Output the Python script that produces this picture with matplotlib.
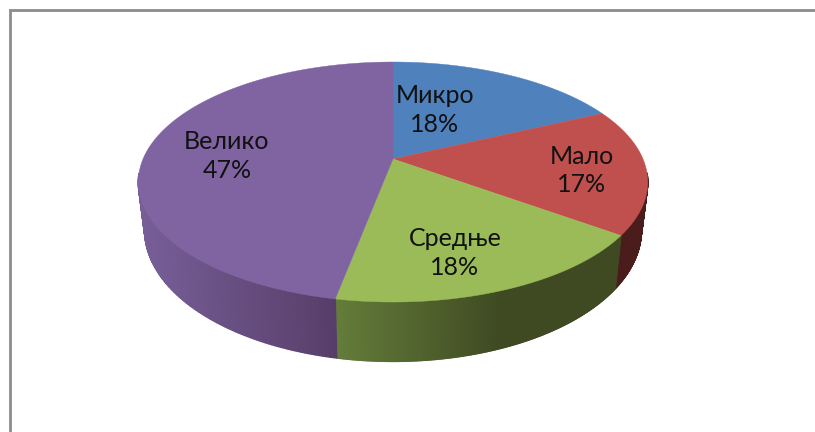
import numpy as np
import matplotlib
matplotlib.use("Agg")
import matplotlib.pyplot as plt
from matplotlib.colors import to_rgb

categories = ["Микро", "Мало", "Средње", "Велико"]
shares = [18, 17, 18, 47]
top_colors = ["#4f81bd", "#c0504d", "#9bbb59", "#8064a2"]
# side colour at the left and right end of the gradient, with the screen x range
side_stops = [("#2f4d71", "#2f4d71"), ("#4a1d1c", "#4a1d1c"),
              ("#647d3a", "#3f4a22"), ("#775e97", "#573e69")]
side_ranges = [(393, 650), (617, 648), (335, 500), (140, 335)]
label_xy = [(435, 110), (582, 170.5), (455, 253), (227, 156)]

W, H = 815, 432
fig = plt.figure(figsize=(W / 100, H / 100), dpi=100)
ax = fig.add_axes([0, 0, 1, 1])
ax.set_xlim(0, W)
ax.set_ylim(H, 0)
ax.axis("off")

CX, CY, RX, RY, K = 393.0, 159.0, 250.0, 115.6, 0.1918


def top(theta):
    x, y = np.sin(theta), np.cos(theta)
    w = 1 + K * y
    return CX + RX * x / w, CY - RY * y / w


def bottom(theta):
    u, v = top(theta)
    return CX + 0.975 * (u - CX), v + 31 + 0.094 * v


edges = np.cumsum([0] + shares) / sum(shares) * 2 * np.pi

# side wall, built from thin overlapping strips so it can carry a gradient
for i in range(len(shares)):
    th = np.linspace(edges[i], edges[i + 1], 240)
    c0, c1 = map(np.array, map(to_rgb, side_stops[i]))
    x0, x1 = side_ranges[i]
    for a, b in zip(th[:-1], th[1:]):
        if np.cos((a + b) / 2) > -0.12:
            continue
        ua, va = top(a)
        ub, vb = top(b)
        la, ma = bottom(a)
        lb, mb = bottom(b)
        t = np.clip(((ua + ub) / 2 - x0) / (x1 - x0), 0, 1)
        col = c0 + (c1 - c0) * t
        ax.fill([ua, ub, lb, la], [va, vb, mb, ma], color=col, lw=1.0,
                joinstyle="round", zorder=1)

# top face
for i in range(len(shares)):
    th = np.linspace(edges[i], edges[i + 1], 200)
    u, v = top(th)
    ax.fill(np.r_[CX, u], np.r_[CY, v], color=top_colors[i], lw=0.3, zorder=2)

# chart frame
frame = "#8c8c8c"
ax.plot([9.5, 9.5, W], [H, 9.5, 9.5], color=frame, lw=2, solid_joinstyle="miter", zorder=0)

family = ["Lato", "Open Sans", "DejaVu Sans"]
for name, val, (x, y) in zip(categories, shares, label_xy):
    ax.text(x, y, f"{name}\n{val}%", ha="center", va="center", fontsize=18,
            color="#111111", family=family, linespacing=1.3, zorder=3)

fig.savefig("out.png", dpi=100)
